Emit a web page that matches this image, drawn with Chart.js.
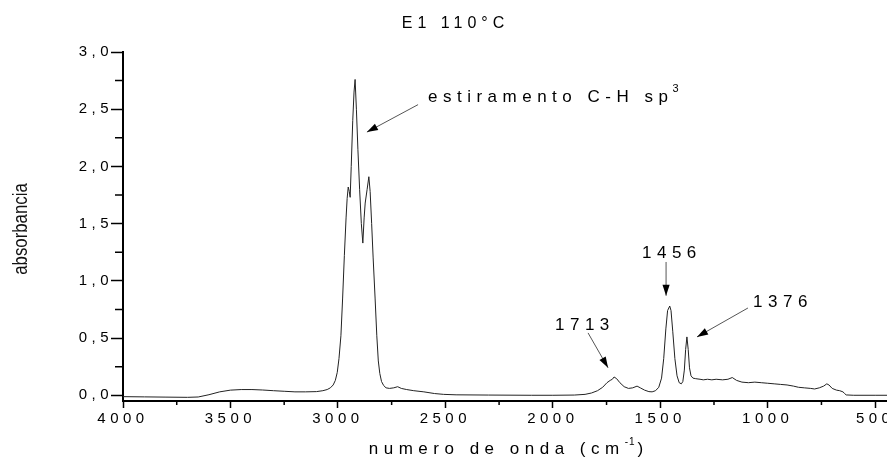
<!DOCTYPE html>
<html>
<head>
<meta charset="utf-8">
<script src="https://cdn.jsdelivr.net/npm/chart.js@4.4.1/dist/chart.umd.min.js"></script>
<style>
  html, body { margin: 0; padding: 0; background: #fff; overflow: hidden; }
  #wrap { width: 887px; height: 457px; }
</style>
</head>
<body>
<div id="wrap"><canvas id="spectrum"></canvas></div>
<script>
// FTIR spectrum E1 110°C
const wavenumber = [
  4000, 3900, 3800, 3700, 3650, 3600, 3550, 3500, 3450, 3400, 3350, 3300, 3250, 3200, 3150, 3100,
  3070, 3050, 3035, 3022, 3012, 3003, 2995, 2986, 2978, 2970, 2962, 2957, 2952, 2947, 2943, 2938, 2931,
  2925, 2920, 2914, 2907, 2899, 2891, 2884, 2878, 2873, 2864, 2856, 2850, 2843, 2836, 2827, 2819,
  2812, 2805, 2797, 2787, 2776, 2760, 2740, 2722, 2705, 2680, 2647, 2600, 2550, 2508, 2450, 2300,
  2100, 2000, 1900, 1850, 1820, 1792, 1768, 1748, 1733, 1723, 1715, 1703, 1688, 1668, 1648, 1628,
  1608, 1593, 1573, 1553, 1538, 1522, 1507, 1494, 1484, 1474, 1466, 1456, 1450, 1442, 1432, 1422,
  1412, 1402, 1395, 1388, 1382, 1376, 1370, 1364, 1357, 1348, 1335, 1315, 1300, 1280, 1260, 1240,
  1210, 1185, 1165, 1145, 1120, 1090, 1060, 1030, 1000, 970, 940, 910, 880, 857, 830, 800,
  782, 760, 740, 725, 715, 700, 680, 665, 650, 642, 635, 600, 500, 445
];
const absorbance = [
  -0.012, -0.014, -0.016, -0.018, -0.015, 0.005, 0.030, 0.045, 0.050, 0.050, 0.046, 0.040, 0.035, 0.030, 0.030, 0.032,
  0.040, 0.050, 0.065, 0.09, 0.13, 0.20, 0.32, 0.52, 0.85, 1.22, 1.55, 1.72, 1.82, 1.78, 1.73, 2.00, 2.40,
  2.65, 2.76, 2.50, 2.15, 1.80, 1.50, 1.33, 1.55, 1.68, 1.80, 1.91, 1.78, 1.50, 1.20, 0.85, 0.52,
  0.30, 0.19, 0.12, 0.085, 0.065, 0.060, 0.065, 0.075, 0.060, 0.050, 0.040, 0.030, 0.015, 0.008, 0.004, 0.002,
  0.000, 0.000, 0.002, 0.008, 0.020, 0.040, 0.070, 0.110, 0.130, 0.140, 0.160, 0.145, 0.110, 0.075, 0.060, 0.065,
  0.080, 0.065, 0.045, 0.032, 0.030, 0.040, 0.070, 0.150, 0.320, 0.580, 0.740, 0.780, 0.740, 0.560, 0.320, 0.170,
  0.110, 0.100, 0.120, 0.220, 0.400, 0.510, 0.400, 0.240, 0.170, 0.150, 0.145, 0.140, 0.135, 0.140, 0.135, 0.140,
  0.135, 0.140, 0.155, 0.130, 0.115, 0.110, 0.115, 0.110, 0.105, 0.100, 0.095, 0.090, 0.080, 0.070, 0.065, 0.060,
  0.055, 0.065, 0.080, 0.100, 0.090, 0.060, 0.045, 0.040, 0.030, 0.015, 0.003, 0.000, 0.000, 0.000
];
const yMajorTicks = [0, 0.5, 1.0, 1.5, 2.0, 2.5, 3.0];
const yMinorTicks = [0.25, 0.75, 1.25, 1.75, 2.25, 2.75];
const xMajorTicks = [4000, 3500, 3000, 2500, 2000, 1500, 1000, 500];
const xMinorTicks = [3750, 3250, 2750, 2250, 1750, 1250, 750];

const titleText = 'E1 110°C';
const yTitle = 'absorbancia';
const xTitle = 'numero de onda (cm';

// labels with arrows, placed in data coordinates
const notes = [
  { text: 'estiramento C-H sp', sup: '3', at: [2581, 2.565], from: [2627, 2.54], to: [2865, 2.30] },
  { text: '1456', at: [1585, 1.20], from: [1473, 1.165], to: [1473, 0.87] },
  { text: '1713', at: [1990, 0.571], from: [1836, 0.545], to: [1743, 0.24] },
  { text: '1376', at: [1068, 0.772], from: [1092, 0.763], to: [1329, 0.51] }
];

const FONT = '"Liberation Sans", Arial, sans-serif';

function spacedText(ctx, text, x, y, size, spacing, align) {
  ctx.font = size + 'px ' + FONT;
  ctx.letterSpacing = spacing + 'px';
  const w = ctx.measureText(text).width - spacing;
  let left = x;
  if (align === 'center') left = x - w / 2;
  ctx.textAlign = 'left';
  ctx.fillText(text, left, y);
  return left + w + spacing;
}

function arrow(ctx, x1, y1, x2, y2) {
  ctx.strokeStyle = '#555';
  ctx.lineWidth = 1;
  ctx.beginPath();
  ctx.moveTo(x1, y1);
  ctx.lineTo(x2, y2);
  ctx.stroke();
  const ang = Math.atan2(y2 - y1, x2 - x1);
  const len = 11, half = 3.6;
  ctx.fillStyle = '#000';
  ctx.beginPath();
  ctx.moveTo(x2, y2);
  ctx.lineTo(x2 - len * Math.cos(ang) + half * Math.sin(ang), y2 - len * Math.sin(ang) - half * Math.cos(ang));
  ctx.lineTo(x2 - len * Math.cos(ang) - half * Math.sin(ang), y2 - len * Math.sin(ang) + half * Math.cos(ang));
  ctx.closePath();
  ctx.fill();
}

const decorations = {
  id: 'decorations',
  beforeDraw(chart) {
    chart.ctx.letterSpacing = '4.5px';
  },
  afterDraw(chart) {
    const { ctx, chartArea: a, scales: { x, y } } = chart;
    ctx.save();
    // minor ticks
    ctx.strokeStyle = '#000';
    ctx.lineWidth = 1.5;
    ctx.beginPath();
    yMinorTicks.forEach(v => {
      const py = y.getPixelForValue(v);
      ctx.moveTo(a.left - 8, py);
      ctx.lineTo(a.left, py);
    });
    xMinorTicks.forEach(v => {
      const px = x.getPixelForValue(v);
      ctx.moveTo(px, a.bottom);
      ctx.lineTo(px, a.bottom + 4);
    });
    ctx.stroke();

    ctx.fillStyle = '#000';
    ctx.textBaseline = 'alphabetic';
    // title
    spacedText(ctx, titleText, 453, 28, 16, 5, 'center');

    // x axis title with superscript
    ctx.font = '17px ' + FONT;
    ctx.letterSpacing = '5.5px';
    const w1 = ctx.measureText(xTitle).width;
    ctx.font = '10px ' + FONT;
    ctx.letterSpacing = '1px';
    const w2 = ctx.measureText('-1').width + 3;
    ctx.font = '17px ' + FONT;
    const w3 = ctx.measureText(')').width;
    let xs = 507 - (w1 + w2 + w3) / 2;
    xs = spacedText(ctx, xTitle, xs, 454, 17, 5.5, 'left');
    xs = spacedText(ctx, '-1', xs, 445, 10, 1, 'left');
    spacedText(ctx, ')', xs + 2, 454, 17, 0, 'left');

    // y axis title (condensed)
    ctx.save();
    ctx.translate(21, 229);
    ctx.rotate(-Math.PI / 2);
    ctx.scale(0.84, 1);
    ctx.font = '20px ' + FONT;
    ctx.letterSpacing = '0px';
    ctx.textAlign = 'center';
    ctx.textBaseline = 'middle';
    ctx.fillStyle = '#111';
    ctx.fillText(yTitle, 0, 0);
    ctx.restore();

    // annotations
    notes.forEach(n => {
      ctx.fillStyle = '#000';
      const px = x.getPixelForValue(n.at[0]);
      const py = y.getPixelForValue(n.at[1]);
      const end = spacedText(ctx, n.text, px, py, 17, 5.5, 'left');
      if (n.sup) spacedText(ctx, n.sup, end - 1, py - 10, 11, 0, 'left');
      arrow(ctx, x.getPixelForValue(n.from[0]), y.getPixelForValue(n.from[1]),
        x.getPixelForValue(n.to[0]), y.getPixelForValue(n.to[1]));
    });
    ctx.restore();
  }
};

new Chart(document.getElementById('spectrum'), {
  type: 'line',
  data: {
    datasets: [{
      data: wavenumber.map((w, i) => ({ x: w, y: absorbance[i] })),
      borderColor: '#222',
      borderWidth: 1,
      pointRadius: 0,
      tension: 0,
      fill: false
    }]
  },
  options: {
    responsive: true,
    maintainAspectRatio: false,
    animation: false,
    layout: { padding: { top: 52, right: 0, bottom: 0, left: 0 } },
    plugins: { legend: { display: false }, tooltip: { enabled: false }, title: { display: false } },
    scales: {
      x: {
        type: 'linear',
        reverse: true,
        min: 445,
        max: 4000,
        afterBuildTicks: s => { s.ticks = xMajorTicks.map(v => ({ value: v })); },
        afterFit: s => { s.height = 56; s.paddingLeft = 0; s.paddingRight = 0; },
        border: { display: true, color: '#000', width: 2 },
        grid: { drawOnChartArea: false, drawTicks: true, tickLength: 7, tickColor: '#000', tickWidth: 1.5 },
        ticks: {
          autoSkip: false, maxRotation: 0, padding: 2, color: '#000',
          font: { family: FONT, size: 15 },
          callback: v => String(v)
        }
      },
      y: {
        type: 'linear',
        min: -0.05,
        max: 3.0,
        afterBuildTicks: s => { s.ticks = yMajorTicks.map(v => ({ value: v })); },
        afterFit: s => { s.width = 123; s.paddingTop = 0; s.paddingBottom = 0; },
        border: { display: true, color: '#000', width: 2 },
        grid: { drawOnChartArea: false, drawTicks: true, tickLength: 12, tickColor: '#000', tickWidth: 1.5 },
        ticks: {
          padding: -2, color: '#000',
          font: { family: FONT, size: 15 },
          callback: v => v.toFixed(1).replace('.', ',')
        }
      }
    }
  },
  plugins: [decorations]
});
</script>
</body>
</html>
